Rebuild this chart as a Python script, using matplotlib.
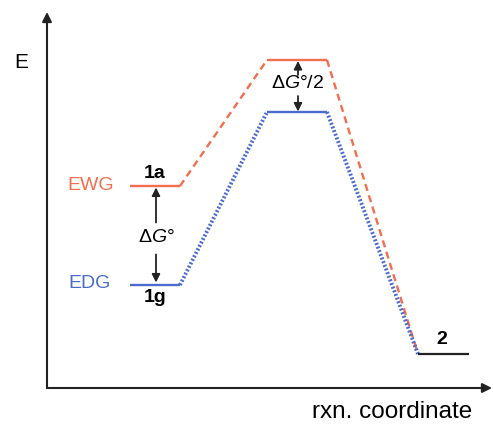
import matplotlib
matplotlib.use("Agg")
import matplotlib.pyplot as plt

plt.rcParams['font.family'] = ['Liberation Sans', 'DejaVu Sans']
plt.rcParams['mathtext.fontset'] = 'custom'
plt.rcParams['mathtext.rm'] = 'Liberation Sans'
plt.rcParams['mathtext.it'] = 'Liberation Sans:italic'
plt.rcParams['mathtext.bf'] = 'Liberation Sans:bold'

# ---- data (reaction coordinate positions and energies, arbitrary units) ----
reactant_x = [8.3, 13.3]
ts_x = [22.0, 28.0]
product_x = [37.1, 42.2]

E_ewg = 20.2        # 1a
E_edg = 10.3        # 1g
E_ts_ewg = 32.8
E_ts_edg = 27.6
E_product = 3.4     # 2

series_names = ["EWG", "EDG"]
red = '#f36e4e'
blue = '#4a6ccc'

fig = plt.figure(figsize=(4.93, 4.24), dpi=100)
ax = fig.add_axes([47/493, 36/424, 445/493, 376/424])
ax.set_xlim(0, 44.5)
ax.set_ylim(0, 37.6)
ax.axis('off')

# axes arrows
axarr = dict(arrowstyle='-|>', color='#222222', lw=1.5, mutation_scale=14,
             shrinkA=0, shrinkB=0)
ax.annotate('', xy=(0, 1), xytext=(0, 0), xycoords='axes fraction', arrowprops=axarr)
ax.annotate('', xy=(1, 0), xytext=(0, 0), xycoords='axes fraction', arrowprops=axarr)

# EWG path
ax.plot(reactant_x, [E_ewg, E_ewg], color=red, lw=1.7, solid_capstyle='butt')
ax.plot(ts_x, [E_ts_ewg, E_ts_ewg], color=red, lw=1.7, solid_capstyle='butt')
ax.plot([reactant_x[1], ts_x[0]], [E_ewg, E_ts_ewg], color=red, lw=1.7,
        dashes=(3, 2), dash_capstyle='butt')
ax.plot([ts_x[1], product_x[0]], [E_ts_ewg, E_product], color=red, lw=1.7,
        dashes=(3, 2), dash_capstyle='butt')

# EDG path
ax.plot(reactant_x, [E_edg, E_edg], color=blue, lw=1.7, solid_capstyle='butt')
ax.plot(ts_x, [E_ts_edg, E_ts_edg], color=blue, lw=1.7, solid_capstyle='butt')
ax.plot([reactant_x[1], ts_x[0]], [E_edg, E_ts_edg], color=blue, lw=2.8,
        dashes=(0.5, 0.5), dash_capstyle='butt')
ax.plot([ts_x[1], product_x[0]], [E_ts_edg, E_product], color=blue, lw=2.8,
        dashes=(0.5, 0.5), dash_capstyle='butt')

# product level
ax.plot(product_x, [E_product, E_product], color='#222222', lw=1.6,
        solid_capstyle='butt')

# labels
ax.text(4.4, E_ewg, series_names[0], color=red, fontsize=14, ha='center', va='center')
ax.text(4.3, E_edg + 0.2, series_names[1], color=blue, fontsize=14, ha='center', va='center')
ax.text(10.8, E_ewg + 1.25, '1a', fontsize=14, fontweight='bold', ha='center', va='center')
ax.text(10.8, E_edg - 1.3, '1g', fontsize=14, fontweight='bold', ha='center', va='center')
ax.text(39.5, E_product + 1.4, '2', fontsize=14, fontweight='bold', ha='center', va='center')

# ΔG° arrows
xa = 10.9
mid = (E_ewg + E_edg) / 2
arr = dict(arrowstyle='-|>', color='#222222', lw=1.3, mutation_scale=12,
           shrinkA=0, shrinkB=0)
ax.annotate('', xy=(xa, E_ewg - 0.15), xytext=(xa, mid + 1.3), arrowprops=arr)
ax.annotate('', xy=(xa, E_edg + 0.25), xytext=(xa, mid - 1.9), arrowprops=arr)
ax.text(xa, mid - 0.2, r'Δ$\it{G}$°', fontsize=14, ha='center', va='center')

# ΔG°/2 arrows
xb = 25.1
ax.annotate('', xy=(xb, E_ts_ewg - 0.1), xytext=(xb, E_ts_ewg - 1.5), arrowprops=arr)
ax.annotate('', xy=(xb, E_ts_edg + 0.05), xytext=(xb, E_ts_edg + 1.6), arrowprops=arr)
ax.text(xb, (E_ts_ewg + E_ts_edg) / 2 + 0.25, r'Δ$\it{G}$°/2', fontsize=14,
        ha='center', va='center')

# axis titles
ax.text(-2.6, 32.5, 'E', fontsize=15, ha='center', va='center', clip_on=False)
ax.text(34.5, -3.0, 'rxn. coordinate', fontsize=17.5, ha='center', va='baseline',
        clip_on=False)

fig.savefig('out.png', dpi=100)
